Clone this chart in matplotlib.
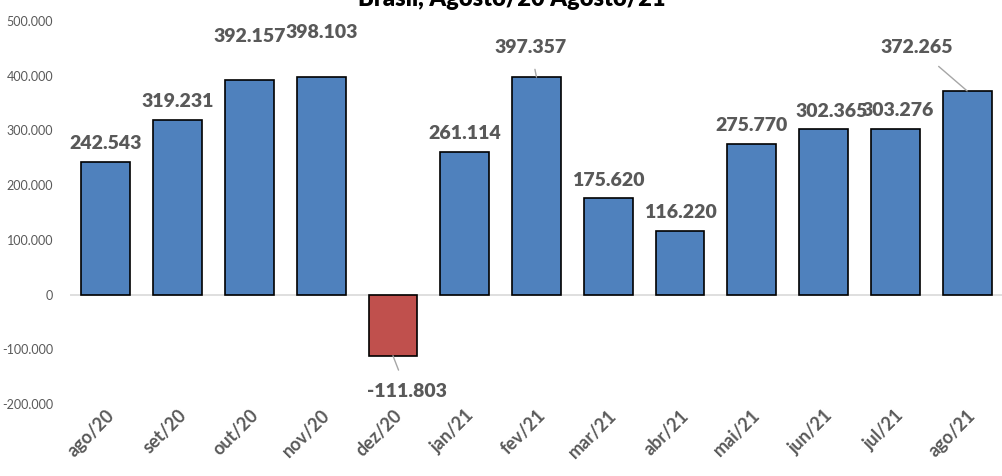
import numpy as np
import matplotlib
matplotlib.use("Agg")
import matplotlib.pyplot as plt

meses = ["ago/20", "set/20", "out/20", "nov/20", "dez/20", "jan/21", "fev/21",
         "mar/21", "abr/21", "mai/21", "jun/21", "jul/21", "ago/21"]
saldo = [242543, 319231, 392157, 398103, -111803, 261114, 397357,
         175620, 116220, 275770, 302365, 303276, 372265]
titulo = "Brasil, Agosto/20 Agosto/21"
yticks = [-200000, -100000, 0, 100000, 200000, 300000, 400000, 500000]

# offsets (pixels) for labels that Excel moved off the bar, with leader lines
leader = {4: (14, -36), 6: (-6, 30), 12: (-50, 43)}
shift = {2: (0, 26), 3: (0, 26), 10: (8, 0), 11: (2, 0)}

def fmt(v):
    s = "{:,}".format(abs(int(v))).replace(",", ".")
    return "-" + s if v < 0 else s

plt.rcParams['font.family'] = ['Lato', 'DejaVu Sans']
gray = "#595959"

fig = plt.figure(figsize=(10.03, 4.76), dpi=100)
ax = fig.add_axes([70/1003, 1 - 404/476, 1 - 70/1003, 383/476])

x = np.arange(len(meses))
cores = ["#4f81bd" if v >= 0 else "#c0504d" for v in saldo]
ax.bar(x, saldo, width=0.68, color=cores, edgecolor="black", linewidth=1.2, zorder=3)

ax.set_xlim(-0.5, len(meses) - 0.5)
ax.set_ylim(-200000, 500000)
ax.set_yticks(yticks)
ax.set_yticklabels([fmt(v) for v in yticks], color=gray, fontsize=9)
ax.set_xticks(x)
ax.set_xticklabels(meses, rotation=45, ha="right", rotation_mode="anchor",
                   color=gray, fontsize=13, fontweight="bold")
ax.tick_params(axis="both", length=0)
ax.tick_params(axis="x", pad=2)
ax.tick_params(axis="y", pad=12)
for s in ax.spines.values():
    s.set_visible(False)
ax.axhline(0, color="#d9d9d9", linewidth=1.2, zorder=2)

for i, v in enumerate(saldo):
    if i in leader:
        dx, dy = leader[i]
        ax.annotate(fmt(v), (i, v), xytext=(dx * 0.72, dy * 0.72), textcoords="offset points",
                    ha="center", va="center", fontsize=14, fontweight="heavy", color=gray,
                    arrowprops=dict(arrowstyle="-", color="#a6a6a6", lw=1, shrinkA=8, shrinkB=0))
    else:
        dx, dy = shift.get(i, (0, 0))
        ax.annotate(fmt(v), (i, v), xytext=(dx * 0.72, (18 + dy) * 0.72), textcoords="offset points",
                    ha="center", va="center", fontsize=14, fontweight="heavy", color=gray)

fig.text(0.51, 1 - 6/476, titulo, ha="center", va="baseline", fontsize=17, fontweight="heavy")

fig.savefig("out.png", dpi=100)
